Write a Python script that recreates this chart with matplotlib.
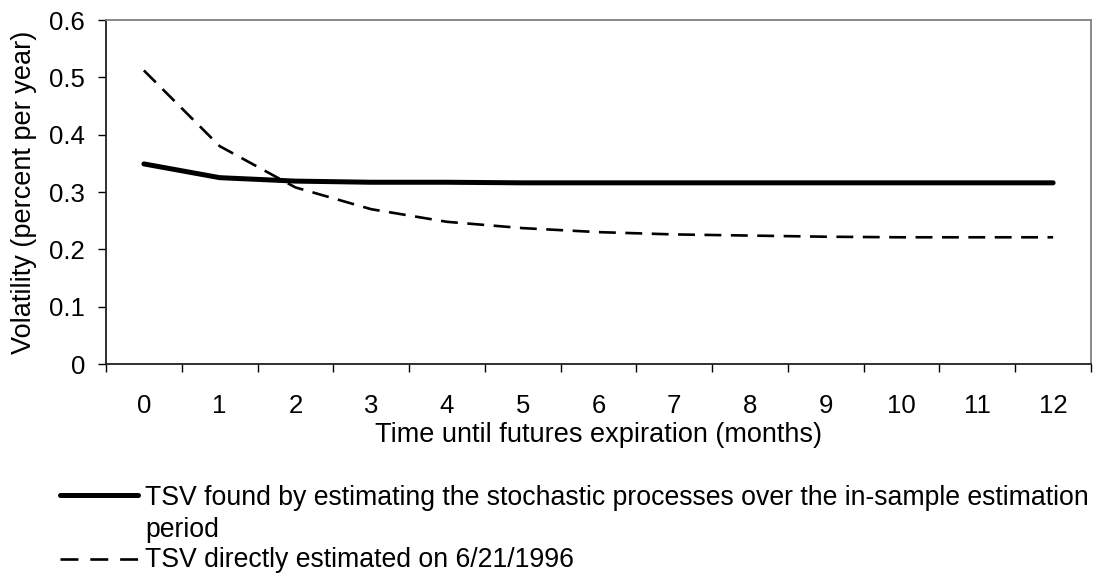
import numpy as np
import matplotlib.pyplot as plt
from matplotlib.lines import Line2D

months = list(range(13))
tsv_model = [0.349, 0.325, 0.319, 0.317, 0.317, 0.316, 0.316, 0.316, 0.316, 0.316, 0.316, 0.316, 0.316]
tsv_direct = [0.512, 0.380, 0.308, 0.270, 0.248, 0.237, 0.230, 0.226, 0.224, 0.222, 0.221, 0.221, 0.221]
yticks = [0, 0.1, 0.2, 0.3, 0.4, 0.5, 0.6]
ytick_labels = ["0", "0.1", "0.2", "0.3", "0.4", "0.5", "0.6"]
# first legend entry wraps onto a second line in the original
legend_model = ["TSV found by estimating the stochastic processes over the in-sample estimation",
                "period"]
legend_direct = "TSV directly estimated on 6/21/1996"

plt.rcParams['font.family'] = ['Liberation Sans', 'DejaVu Sans']
W, H = 1101, 577

fig = plt.figure(figsize=(W / 100, H / 100), dpi=100)
ax = fig.add_axes([106 / W, 1 - 364 / H, (1091 - 106) / W, (364 - 20) / H])

x = np.arange(len(months))
ax.plot(x, tsv_model, color="black", lw=3.6, solid_capstyle="round")
ax.plot(x, tsv_direct, color="black", lw=1.9, dashes=(6.4, 3.6))

ax.set_xlim(-0.5, len(months) - 0.5)
ax.set_ylim(0, 0.6)
ax.set_yticks(yticks, ytick_labels)
ax.set_xticks(x, [str(m) for m in months])
ax.set_xticks(np.arange(-0.5, len(months)), minor=True)
ax.tick_params(axis="x", which="major", length=0, pad=21.6, labelsize=18.5)
ax.tick_params(axis="x", which="minor", length=5.8, width=1, direction="out")
ax.tick_params(axis="y", length=5.8, width=1, direction="out", pad=9.4, labelsize=18.5)

for side in ["top", "right"]:
    ax.spines[side].set_color("#808080")
    ax.spines[side].set_linewidth(1.3)
for side in ["left", "bottom"]:
    ax.spines[side].set_color("#202020")
    ax.spines[side].set_linewidth(1.3)

ax.set_xlabel("Time until futures expiration (months)", fontsize=19.5, labelpad=3)
ax.set_ylabel("Volatility (percent per year)", fontsize=19.5, labelpad=9)

# legend drawn below the chart, handle aligned with the first text line
LFS = 19.2
fig.add_artist(Line2D([60 / W, 138 / W], [1 - 495 / H, 1 - 495 / H], color="black", lw=3.6,
                      solid_capstyle="round"))
fig.text(145 / W, 1 - 505 / H, legend_model[0], fontsize=LFS, va="baseline", ha="left")
fig.text(145 / W, 1 - 537 / H, legend_model[1], fontsize=LFS, va="baseline", ha="left")
fig.add_artist(Line2D([60 / W, 138 / W], [1 - 559 / H, 1 - 559 / H], color="black", lw=1.9,
                      dashes=(6.8, 4.5)))
fig.text(145 / W, 1 - 567 / H, legend_direct, fontsize=LFS, va="baseline", ha="left")

fig.savefig("out.png", dpi=100)
